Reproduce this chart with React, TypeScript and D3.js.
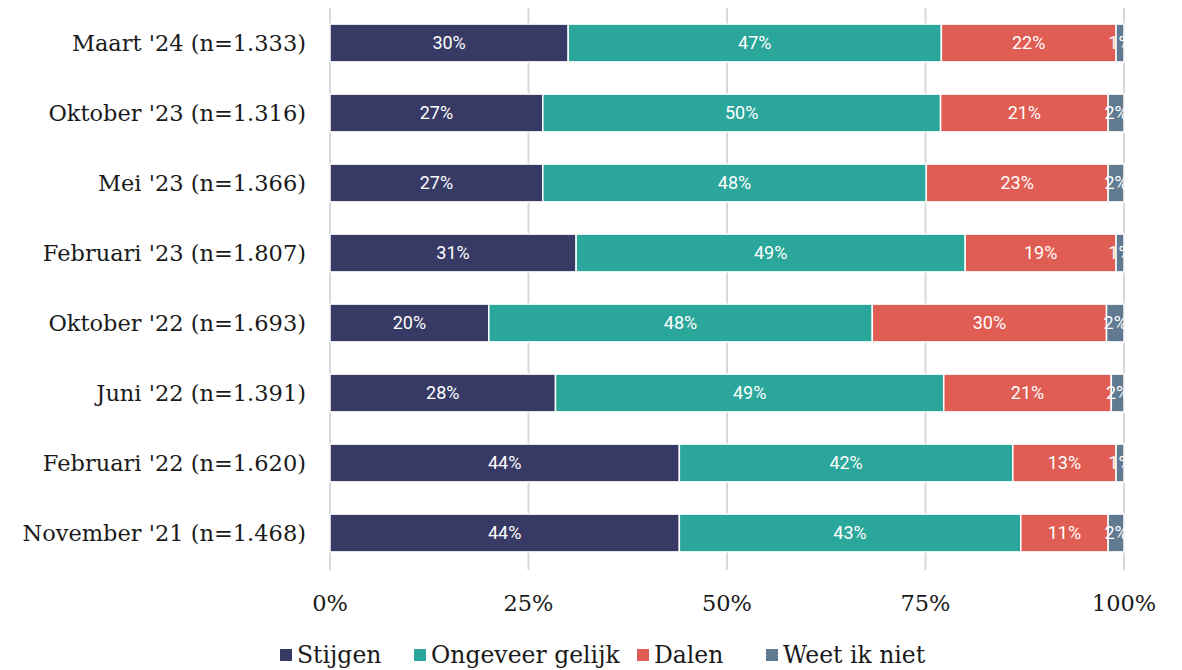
import * as d3 from 'd3';
import { useRef, useEffect } from 'react';

const categories = [
  "Maart '24 (n=1.333)",
  "Oktober '23 (n=1.316)",
  "Mei '23 (n=1.366)",
  "Februari '23 (n=1.807)",
  "Oktober '22 (n=1.693)",
  "Juni '22 (n=1.391)",
  "Februari '22 (n=1.620)",
  "November '21 (n=1.468)",
];

const seriesNames = ['Stijgen', 'Ongeveer gelijk', 'Dalen', 'Weet ik niet'];
const seriesColors = ['#383a66', '#2ba69a', '#df5d53', '#5f7a91'];

const stijgen = [30.0, 26.8, 26.8, 31.0, 20.0, 28.4, 44.0, 44.0];
const gelijk = [47.0, 50.1, 48.3, 49.0, 48.3, 48.9, 42.0, 43.0];
const dalen = [22.0, 21.1, 22.9, 19.0, 29.5, 21.1, 13.0, 11.0];
const weetNiet = [1.0, 2.0, 2.0, 1.0, 2.2, 1.6, 1.0, 2.0];

const xTicks = [0, 25, 50, 75, 100];

const App = () => {
  const svgRef = useRef<SVGSVGElement>(null);

  useEffect(() => {
    const svg = d3.select(svgRef.current);
    const width = 1182;
    const height = 670;
    const margin = { top: 8, right: 58, bottom: 102, left: 330 };
    const serif = '"DejaVu Serif", serif';

    svg.attr('width', width).attr('height', height);
    svg.selectAll('*').remove();

    const x = d3.scaleLinear()
      .domain([0, 100])
      .range([margin.left, width - margin.right]);

    const y = d3.scaleBand()
      .domain(categories)
      .range([margin.top, height - margin.bottom])
      .paddingInner(0.46)
      .paddingOuter(0.23);

    // grid
    svg.append('g')
      .selectAll('line')
      .data(xTicks)
      .enter().append('line')
      .attr('x1', d => x(d))
      .attr('x2', d => x(d))
      .attr('y1', margin.top)
      .attr('y2', height - margin.bottom + 2)
      .attr('stroke', '#d9d9d9')
      .attr('stroke-width', 2);

    const rows = categories.map((c, i) => ({ cat: c, values: [stijgen[i], gelijk[i], dalen[i], weetNiet[i]] }));

    rows.forEach(row => {
      let acc = 0;
      row.values.forEach((v, s) => {
        const x0 = x(acc);
        const x1 = x(acc + v);
        acc += v;
        svg.append('rect')
          .attr('x', x0)
          .attr('y', y(row.cat)!)
          .attr('width', x1 - x0)
          .attr('height', y.bandwidth())
          .attr('fill', seriesColors[s])
          .attr('stroke', '#fff')
          .attr('stroke-width', 1.5);
        svg.append('text')
          .attr('x', (x0 + x1) / 2)
          .attr('y', y(row.cat)! + y.bandwidth() / 2)
          .attr('dy', '0.35em')
          .attr('text-anchor', 'middle')
          .style('font-family', 'Roboto, sans-serif')
          .style('font-size', '18px')
          .attr('fill', '#fff')
          .text(`${Math.round(v)}%`);
      });
    });

    // category labels
    svg.append('g')
      .selectAll('text')
      .data(categories)
      .enter().append('text')
      .attr('x', margin.left - 24)
      .attr('y', d => y(d)! + y.bandwidth() / 2)
      .attr('dy', '0.35em')
      .attr('text-anchor', 'end')
      .style('font-family', serif)
      .style('font-size', '22.5px')
      .attr('fill', '#1a1a1a')
      .text(d => d);

    // x tick labels
    svg.append('g')
      .selectAll('text')
      .data(xTicks)
      .enter().append('text')
      .attr('x', d => x(d))
      .attr('y', 603)
      .attr('dy', '0.35em')
      .attr('text-anchor', 'middle')
      .style('font-family', serif)
      .style('font-size', '22.5px')
      .attr('fill', '#1a1a1a')
      .text(d => `${d}%`);

    // legend
    const legendX = [280, 414, 637, 766];
    const legend = svg.append('g');
    seriesNames.forEach((name, i) => {
      legend.append('rect')
        .attr('x', legendX[i])
        .attr('y', 649)
        .attr('width', 12)
        .attr('height', 12)
        .attr('fill', seriesColors[i]);
      legend.append('text')
        .attr('x', legendX[i] + 17)
        .attr('y', 655)
        .attr('dy', '0.35em')
        .style('font-family', serif)
        .style('font-size', '23.5px')
        .attr('fill', '#1a1a1a')
        .text(name);
    });
  }, []);

  return (
    <div style={{ position: 'absolute', left: 0, top: 0 }}>
      <svg ref={svgRef}></svg>
    </div>
  );
};

export default App;
